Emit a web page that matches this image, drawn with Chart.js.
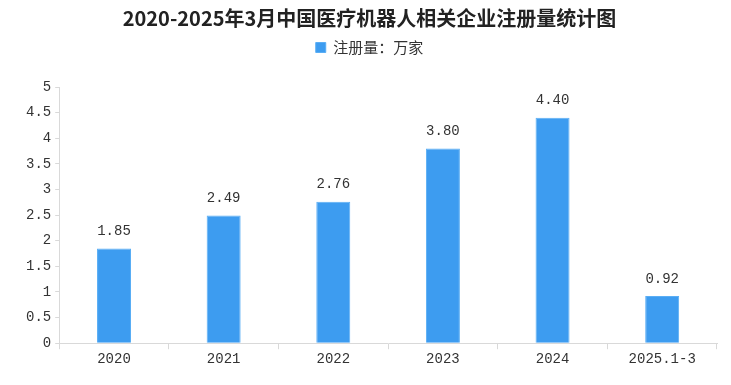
<!DOCTYPE html>
<html>
<head>
<meta charset="utf-8">
<script src="https://cdn.jsdelivr.net/npm/chart.js@4/dist/chart.umd.min.js"></script>
<style>
  html, body { margin: 0; padding: 0; background: #fff; }
  #wrap { width: 731px; height: 385px; }
</style>
</head>
<body>
<div id="wrap"><canvas id="regChart"></canvas></div>
<script>
const categories = ["2020", "2021", "2022", "2023", "2024", "2025.1-3"];
const registrations = [1.85, 2.49, 2.76, 3.80, 4.40, 0.92];
const seriesName = "注册量：万家";
const titleText = "2020-2025年3月中国医疗机器人相关企业注册量统计图";

const labelFont = "'Liberation Mono', 'DejaVu Sans Mono', monospace";

// value labels above each bar
const barLabels = {
    id: "barLabels",
    afterDatasetsDraw(chart) {
        const ctx = chart.ctx;
        const meta = chart.getDatasetMeta(0);
        ctx.save();
        ctx.fillStyle = "#333";
        ctx.font = "14px " + labelFont;
        ctx.textAlign = "center";
        ctx.textBaseline = "bottom";
        meta.data.forEach((bar, i) => {
            ctx.fillText(registrations[i].toFixed(2), bar.x, bar.y - 10);
        });
        ctx.restore();
    }
};

// extra room under the legend
const legendGap = {
    id: "legendGap",
    beforeInit(chart) {
        const fit = chart.legend.fit;
        chart.legend.fit = function() {
            fit.bind(chart.legend)();
            this.height += 22;
        };
    }
};

new Chart(document.getElementById("regChart"), {
    type: "bar",
    data: {
        labels: categories,
        datasets: [{
            label: seriesName,
            data: registrations,
            backgroundColor: "#3d9cf0",
            borderColor: "#5aaef5",
            borderWidth: 1,
            categoryPercentage: 1,
            barPercentage: 0.31
        }]
    },
    options: {
        responsive: true,
        maintainAspectRatio: false,
        animation: false,
        layout: { padding: { left: 22, right: 14, top: 4, bottom: 15 } },
        plugins: {
            title: {
                display: true,
                text: titleText,
                color: "#222",
                font: { family: "'Noto Sans CJK SC', sans-serif", size: 20, weight: "bold" },
                padding: { top: 2, bottom: 0 }
            },
            legend: {
                display: true,
                labels: {
                    color: "#333",
                    boxWidth: 10,
                    boxHeight: 10,
                    font: { family: "'Noto Sans CJK SC', sans-serif", size: 15 }
                }
            },
            tooltip: { enabled: false }
        },
        scales: {
            x: {
                grid: { display: true, drawOnChartArea: false, color: "#d9d9d9", tickLength: 6 },
                border: { color: "#d9d9d9" },
                ticks: { color: "#333", font: { family: labelFont, size: 14 }, padding: 2 }
            },
            y: {
                min: 0,
                max: 5,
                ticks: {
                    stepSize: 0.5,
                    color: "#333",
                    font: { family: labelFont, size: 14 },
                    padding: 4,
                    callback: v => String(v)
                },
                grid: { display: true, drawOnChartArea: false, color: "#d9d9d9", tickLength: 4 },
                border: { color: "#d9d9d9" }
            }
        }
    },
    plugins: [barLabels, legendGap]
});
</script>
</body>
</html>
